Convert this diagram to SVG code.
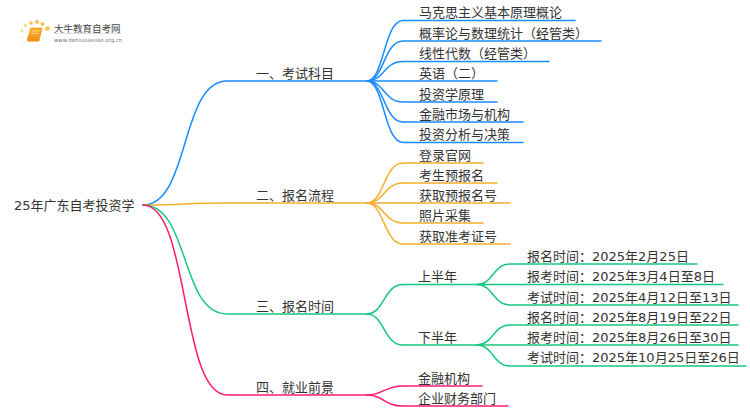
<svg xmlns="http://www.w3.org/2000/svg" width="750" height="410" viewBox="0 0 750 410">
<style>
text{font-family:"DejaVu Sans","Noto Sans CJK SC",sans-serif;font-size:13px;fill:#333}
path{fill:none;stroke-width:1.5;stroke-linecap:round}
.b path{stroke:#1a8cff}.o path{stroke:#f5b02e}.g path{stroke:#18c77f}.p path{stroke:#ff1a78}
</style>
<defs><linearGradient id="bk" x1="0" y1="0" x2="0" y2="1"><stop offset="0" stop-color="#fbb62c"/><stop offset="1" stop-color="#f08a12"/></linearGradient></defs>
<rect width="750" height="410" fill="#fff"/>
<g id="logo">
<g fill="#fbc04a"><circle cx="47.500" cy="28.500" r="2.300"/><circle cx="42.500" cy="24" r="1.900"/><circle cx="37" cy="22" r="1.900"/><circle cx="31" cy="23" r="1.800"/><circle cx="25.500" cy="25.500" r="1.500" opacity=".8"/><circle cx="22" cy="31" r="1.200" opacity=".6"/><circle cx="21.500" cy="37" r="1" opacity=".45"/><circle cx="23.500" cy="42.500" r="1" opacity=".35"/></g>
<path d="M31 28H42L39 41H28Q27 41 27.500 39Z" style="fill:url(#bk);stroke:#ee8a14;stroke-width:.6"/>
<path d="M28 41.500H38.500" style="stroke:#f9c98a;stroke-width:1"/>
<path d="M32.500 31H38.500M32 33.500H38" style="stroke:#fde3a8;stroke-width:.8"/>
<text x="54" y="32" style="font-size:9.500px;fill:#444">大牛教育自考网</text>
<rect x="54" y="33" width="67" height=".6" fill="#ccc"/>
<text x="54" y="41.500" style="font-size:5.300px;fill:#777">www.daniuxuexiao.org.cn</text>
</g>
<g id="connectors">
<g class="b">
<path d="M143 205C190 205 180 81 227 81H367"/>
<path d="M367 81C384 81 384 20.500 403 20.500H575"/>
<path d="M367 81C384 81 384 41 403 41H601"/>
<path d="M367 81C384 81 384 61.500 403 61.500H549"/>
<path d="M367 81H497"/>
<path d="M367 81C384 81 384 102 403 102H497"/>
<path d="M367 81C384 81 384 122 403 122H523"/>
<path d="M367 81C384 81 384 142.500 403 142.500H523"/>
</g>
<g class="o">
<path d="M143 205C190 205 180 203 227 203H367"/>
<path d="M367 203C384 203 384 163 403 163H483"/>
<path d="M367 203C384 203 384 183 403 183H497"/>
<path d="M367 203H510"/>
<path d="M367 203C384 203 384 223 403 223H483"/>
<path d="M367 203C384 203 384 244 403 244H510"/>
</g>
<g class="g">
<path d="M143 205C190 205 180 314 227 314H367"/>
<path d="M367 314C384 314 384 284.500 403 284.500H477"/>
<path d="M367 314C384 314 384 345 403 345H477"/>
<path d="M477 284.500C493 284.500 493 264 510 264H697"/>
<path d="M477 284.500H723"/>
<path d="M477 284.500C493 284.500 493 305 510 305H738"/>
<path d="M477 345C493 345 493 325 510 325H738"/>
<path d="M477 345H738"/>
<path d="M477 345C493 345 493 366 510 366H746"/>
</g>
<g class="p">
<path d="M143 205C190 205 180 395 227 395H367"/>
<path d="M367 395C384 395 384 386 403 386H482"/>
<path d="M367 395C384 395 384 406 403 406H508"/>
</g>
</g>
<g id="root"><text x="14" y="210">25年广东自考投资学</text></g>
<g id="b1"><text x="256" y="78">一、考试科目</text></g>
<g id="b1-1"><text x="419" y="17">马克思主义基本原理概论</text></g>
<g id="b1-2"><text x="419" y="38">概率论与数理统计（经管类）</text></g>
<g id="b1-3"><text x="419" y="58">线性代数（经管类）</text></g>
<g id="b1-4"><text x="419" y="78">英语（二）</text></g>
<g id="b1-5"><text x="419" y="99">投资学原理</text></g>
<g id="b1-6"><text x="419" y="119">金融市场与机构</text></g>
<g id="b1-7"><text x="419" y="139">投资分析与决策</text></g>
<g id="b2"><text x="256" y="200">二、报名流程</text></g>
<g id="b2-1"><text x="419" y="160">登录官网</text></g>
<g id="b2-2"><text x="419" y="180">考生预报名</text></g>
<g id="b2-3"><text x="419" y="200">获取预报名号</text></g>
<g id="b2-4"><text x="419" y="220">照片采集</text></g>
<g id="b2-5"><text x="419" y="241">获取准考证号</text></g>
<g id="b3"><text x="256" y="311">三、报名时间</text></g>
<g id="b3-1"><text x="418" y="281">上半年</text></g>
<g id="b3-1-1"><text x="527" y="261">报名时间：2025年2月25日</text></g>
<g id="b3-1-2"><text x="527" y="281">报考时间：2025年3月4日至8日</text></g>
<g id="b3-1-3"><text x="527" y="302">考试时间：2025年4月12日至13日</text></g>
<g id="b3-2"><text x="418" y="342">下半年</text></g>
<g id="b3-2-1"><text x="527" y="322">报名时间：2025年8月19日至22日</text></g>
<g id="b3-2-2"><text x="527" y="342">报考时间：2025年8月26日至30日</text></g>
<g id="b3-2-3"><text x="527" y="362">考试时间：2025年10月25日至26日</text></g>
<g id="b4"><text x="256" y="392">四、就业前景</text></g>
<g id="b4-1"><text x="418" y="383">金融机构</text></g>
<g id="b4-2"><text x="418" y="403">企业财务部门</text></g>
</svg>
